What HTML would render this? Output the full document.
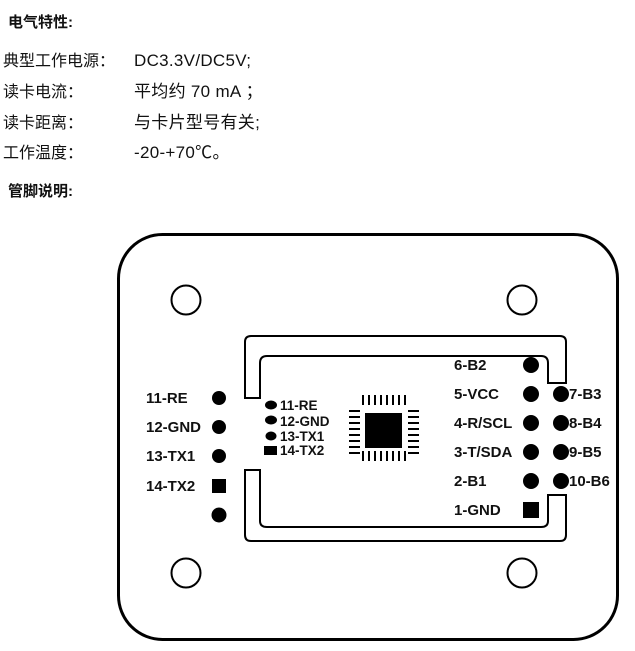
<!DOCTYPE html>
<html><head><meta charset="utf-8"><style>
html,body{margin:0;padding:0;background:#fff;width:635px;height:651px;overflow:hidden}
svg{display:block}
.t{font-family:"Liberation Sans","Noto Sans CJK SC",sans-serif;font-size:16px;fill:#111}
.v{font-family:"Liberation Sans","Noto Sans CJK SC",sans-serif;font-size:17px;letter-spacing:0.3px;fill:#111}
.h{font-family:"Liberation Sans","Noto Sans CJK SC",sans-serif;font-size:15px;font-weight:bold;fill:#111}
.p{font-family:"Liberation Sans","Noto Sans CJK SC",sans-serif;font-size:15px;font-weight:bold;fill:#111}
.s{font-family:"Liberation Sans","Noto Sans CJK SC",sans-serif;font-size:13.5px;font-weight:bold;fill:#111}
</style></head><body>
<svg width="635" height="651" viewBox="0 0 635 651" xmlns="http://www.w3.org/2000/svg">
<text class="h" x="8" y="27">电气特性:</text>
<text class="t" x="3" y="66">典型工作电源：</text><text class="v" x="134" y="66">DC3.3V/DC5V;</text>
<text class="t" x="3" y="97">读卡电流：</text><text class="v" x="134" y="97">平均约 70 mA ；</text>
<text class="t" x="3" y="128">读卡距离：</text><text class="v" x="134" y="128">与卡片型号有关;</text>
<text class="t" x="3" y="158">工作温度：</text><text class="v" x="134" y="158">-20-+70℃。</text>
<text class="h" x="8" y="196">管脚说明:</text>

<rect x="118.5" y="234.5" width="499" height="405" rx="44" fill="none" stroke="#000" stroke-width="3"/>
<g fill="none" stroke="#000" stroke-width="2">
<circle cx="186" cy="300" r="14.5"/><circle cx="522" cy="300" r="14.5"/>
<circle cx="186" cy="573" r="14.5"/><circle cx="522" cy="573" r="14.5"/>
<path d="M245 398 V342 Q245 336 251 336 H560 Q566 336 566 342 V383 H548 V363 Q548 356 541 356 H267 Q260 356 260 363 V398 Z"/>
<path d="M245 470 V535 Q245 541 251 541 H560 Q566 541 566 535 V495 H548 V521 Q548 527 541 527 H267 Q260 527 260 521 V470 Z"/>
</g>
<g fill="#000">
<circle cx="219" cy="398" r="7"/><circle cx="219" cy="427" r="7"/><circle cx="219" cy="456" r="7"/>
<rect x="212" y="479" width="14" height="14"/><circle cx="219" cy="515" r="7.5"/>
<ellipse cx="271" cy="405" rx="6" ry="4.5"/><ellipse cx="271" cy="420" rx="6" ry="4.5"/><ellipse cx="271" cy="436" rx="5.5" ry="4.5"/>
<rect x="264" y="446" width="13" height="9"/>
<rect x="365" y="413" width="37" height="35"/>
<g><rect x="362" y="395" width="2" height="10"/><rect x="368" y="395" width="2" height="10"/><rect x="374" y="395" width="2" height="10"/><rect x="380" y="395" width="2" height="10"/><rect x="386" y="395" width="2" height="10"/><rect x="392" y="395" width="2" height="10"/><rect x="398" y="395" width="2" height="10"/><rect x="404" y="395" width="2" height="10"/></g>
<g transform="translate(0,56)"><rect x="362" y="395" width="2" height="10"/><rect x="368" y="395" width="2" height="10"/><rect x="374" y="395" width="2" height="10"/><rect x="380" y="395" width="2" height="10"/><rect x="386" y="395" width="2" height="10"/><rect x="392" y="395" width="2" height="10"/><rect x="398" y="395" width="2" height="10"/><rect x="404" y="395" width="2" height="10"/></g>
<rect x="349" y="410" width="11" height="2"/><rect x="349" y="416" width="11" height="2"/><rect x="349" y="422" width="11" height="2"/><rect x="349" y="428" width="11" height="2"/><rect x="349" y="434" width="11" height="2"/><rect x="349" y="440" width="11" height="2"/><rect x="349" y="446" width="11" height="2"/><rect x="349" y="452" width="11" height="2"/>
<rect x="408" y="410" width="11" height="2"/><rect x="408" y="416" width="11" height="2"/><rect x="408" y="422" width="11" height="2"/><rect x="408" y="428" width="11" height="2"/><rect x="408" y="434" width="11" height="2"/><rect x="408" y="440" width="11" height="2"/><rect x="408" y="446" width="11" height="2"/><rect x="408" y="452" width="11" height="2"/>
<circle cx="531" cy="365" r="8"/><circle cx="531" cy="394" r="8"/><circle cx="531" cy="423" r="8"/><circle cx="531" cy="452" r="8"/><circle cx="531" cy="481" r="8"/>
<rect x="523" y="502" width="16" height="16"/>
<circle cx="561" cy="394" r="8"/><circle cx="561" cy="423" r="8"/><circle cx="561" cy="452" r="8"/><circle cx="561" cy="481" r="8"/>
</g>
<text class="p" x="146" y="403">11-RE</text><text class="p" x="146" y="432">12-GND</text><text class="p" x="146" y="461">13-TX1</text><text class="p" x="146" y="491">14-TX2</text>
<text class="s" x="280" y="410">11-RE</text><text class="s" x="280" y="426">12-GND</text><text class="s" x="280" y="441">13-TX1</text><text class="s" x="280" y="455">14-TX2</text>
<text class="p" x="454" y="370">6-B2</text><text class="p" x="454" y="399">5-VCC</text><text class="p" x="454" y="428">4-R/SCL</text><text class="p" x="454" y="457">3-T/SDA</text><text class="p" x="454" y="486">2-B1</text><text class="p" x="454" y="515">1-GND</text>
<text class="p" x="569" y="399">7-B3</text><text class="p" x="569" y="428">8-B4</text><text class="p" x="569" y="457">9-B5</text><text class="p" x="569" y="486">10-B6</text>
</svg>
</body></html>
